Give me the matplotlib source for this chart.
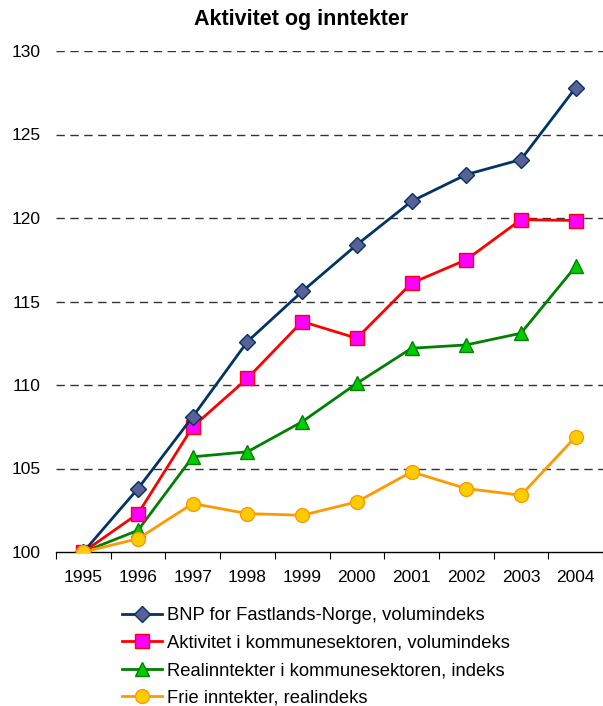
import numpy as np
import matplotlib.pyplot as plt

plt.rcParams['font.family'] = ['Liberation Sans', 'DejaVu Sans']

years = ['1995', '1996', '1997', '1998', '1999', '2000', '2001', '2002', '2003', '2004']
bnp = [100.0, 103.8, 108.1, 112.6, 115.6, 118.4, 121.0, 122.6, 123.5, 127.8]
aktivitet = [100.0, 102.3, 107.5, 110.4, 113.8, 112.8, 116.1, 117.5, 119.9, 119.85]
realinntekter = [100.0, 101.3, 105.7, 106.0, 107.8, 110.1, 112.2, 112.4, 113.1, 117.1]
frie = [100.0, 100.8, 102.9, 102.3, 102.2, 103.0, 104.8, 103.8, 103.4, 106.9]

labels = [
    'BNP for Fastlands-Norge, volumindeks',
    'Aktivitet i kommunesektoren, volumindeks',
    'Realinntekter i kommunesektoren, indeks',
    'Frie inntekter, realindeks',
]

fig = plt.figure(figsize=(6.03, 7.06), dpi=100)
ax = fig.add_axes([56 / 603, 1 - 552 / 706, 1 - 56 / 603, (552 - 51) / 706])

x = np.arange(len(years))
ax.plot(x, bnp, color='#003366', lw=2, marker='D', ms=8,
        mfc='#5A6096', mec='#003366', mew=1, label=labels[0], zorder=5)
ax.plot(x, aktivitet, color='#FF0000', lw=2, marker='s', ms=10,
        mfc='#FF00FF', mec='#FF0000', mew=1, label=labels[1], zorder=4)
ax.plot(x, realinntekter, color='#008000', lw=2, marker='^', ms=10,
        mfc='#00CC00', mec='#008000', mew=1, label=labels[2], zorder=3)
ax.plot(x, frie, color='#FF9900', lw=2, marker='o', ms=10,
        mfc='#FFCC00', mec='#FF9900', mew=1, label=labels[3], zorder=6)

ax.set_ylim(100, 130)
ax.set_xlim(-0.5, 9.47)
ax.set_yticks(np.arange(100, 131, 5))
ax.tick_params(axis='y', length=0, pad=11, labelsize=12.5)
for yv in range(105, 131, 5):
    ax.axhline(yv, color='#333333', lw=1, dashes=(6, 4), zorder=1)

ax.set_xticks(np.arange(-0.5, 10, 1))
ax.set_xticklabels([])
ax.tick_params(axis='x', which='major', length=5, direction='out', color='black')
ax.set_xticks(x, minor=True)
ax.set_xticklabels(years, minor=True)
ax.tick_params(axis='x', which='minor', length=0, pad=13, labelsize=12.5)

for s in ['left', 'right', 'top']:
    ax.spines[s].set_visible(False)
ax.spines['bottom'].set_color('black')
ax.spines['bottom'].set_linewidth(1)

fig.text(0.5, 1 - 19 / 706, 'Aktivitet og inntekter', ha='center', va='center',
         fontsize=15.5, fontweight='bold')

fig.legend(loc='upper left', bbox_to_anchor=(122 / 603, 1 - 607 / 706),
           frameon=False, fontsize=13.2, handlelength=2.2, handletextpad=0.28,
           labelspacing=0.58, borderpad=0, borderaxespad=0)

fig.savefig('out.png', dpi=100)
